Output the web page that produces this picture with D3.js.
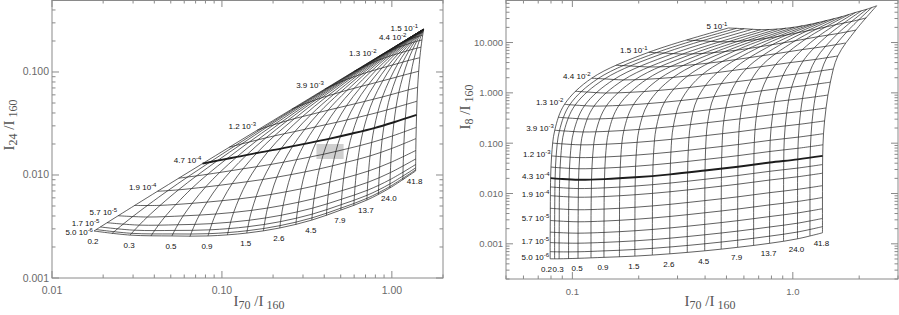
<!DOCTYPE html>
<html><head><meta charset="utf-8">
<script src="https://cdn.jsdelivr.net/npm/d3@7"></script>
<style>body{margin:0;background:#fff}svg{display:block}</style>
</head><body>
<svg id="c" width="899" height="315"></svg>
<script>
// ---------- DATA ----------
const uLabels = ["0.2","0.3","0.5","0.9","1.5","2.6","4.5","7.9","13.7","24.0","41.8"];
const qMantLeft  = ["5.0","1.7","5.7","1.9","4.7","1.2","3.9","1.3","4.4","1.5"];
const qExpLeft   = ["-6","-5","-5","-4","-4","-3","-3","-2","-2","-1"];
const qMantRight = ["5.0","1.7","5.7","1.9","4.3","1.2","3.9","1.3","4.4","1.5","5"];
const qExpRight  = ["-6","-5","-5","-4","-4","-3","-3","-2","-2","-1","-1"];

// LEFT panel — labelled grid nodes: rows = labelled U lines, columns = labelled q levels
const leftX = [
 [0.01766,0.01925,0.02451,0.04176,0.07682,0.1610,0.4028,0.8253,1.236,1.447,1.523],
 [0.0288,0.03056,0.0364,0.05549,0.09414,0.186,0.4438,0.8722,1.264,1.457,1.525],
 [0.0508,0.05274,0.05916,0.08013,0.1224,0.2218,0.4934,0.9223,1.292,1.466,1.526],
 [0.0828,0.08492,0.09194,0.1148,0.1606,0.2674,0.5505,0.9746,1.319,1.475,1.528],
 [0.140,0.1423,0.1498,0.1742,0.2230,0.3351,0.6236,1.033,1.347,1.484,1.530],
 [0.219,0.2214,0.2293,0.2550,0.3059,0.4215,0.7093,1.095,1.374,1.492,1.531],
 [0.338,0.3404,0.3485,0.3745,0.4257,0.5402,0.8155,1.164,1.403,1.501,1.533],
 [0.501,0.5034,0.5111,0.5361,0.5850,0.6925,0.9416,1.239,1.433,1.510,1.535],
 [0.713,0.7151,0.7220,0.7441,0.7870,0.8798,1.087,1.319,1.463,1.518,1.536],
 [0.973,0.9746,0.9799,0.9967,1.029,1.098,1.245,1.401,1.492,1.527,1.538],
 [1.380,1.381,1.382,1.387,1.398,1.418,1.461,1.504,1.528,1.537,1.539]
];
const leftY = [
 [0.00286,0.003129,0.004022,0.006947,0.01289,0.02716,0.06817,0.1398,0.2094,0.2452,0.2581],
 [0.00261,0.002911,0.003909,0.007174,0.01378,0.0295,0.07356,0.1468,0.2138,0.2468,0.2584],
 [0.00256,0.002896,0.004011,0.00765,0.01498,0.03224,0.07937,0.1538,0.2179,0.2482,0.2586],
 [0.00256,0.002935,0.00418,0.008235,0.01637,0.03529,0.08551,0.1607,0.2218,0.2495,0.2589],
 [0.00273,0.003149,0.004537,0.009047,0.01804,0.03872,0.09195,0.1675,0.2253,0.2506,0.2591],
 [0.00306,0.003528,0.005077,0.01009,0.02004,0.0426,0.09879,0.1741,0.2286,0.2517,0.2593],
 [0.00365,0.004171,0.005894,0.01146,0.02242,0.04693,0.1059,0.1805,0.2317,0.2527,0.2595],
 [0.00457,0.005151,0.007067,0.01324,0.02529,0.05182,0.1133,0.1868,0.2346,0.2535,0.2597],
 [0.00571,0.006356,0.008486,0.01532,0.02856,0.0572,0.121,0.1929,0.2372,0.2543,0.2598],
 [0.00748,0.008196,0.01055,0.01808,0.03254,0.06322,0.1289,0.1986,0.2396,0.2551,0.2599],
 [0.01094,0.01173,0.01432,0.02258,0.03827,0.07089,0.1377,0.2045,0.242,0.2557,0.2601]
];
// LEFT panel — unlabelled U lines (one between each labelled pair), at the labelled q levels
const leftUmidX = [
 [0.02254,0.02421,0.02976,0.04791,0.08474,0.1727,0.4226,0.8485,1.250,1.452,1.524],
 [0.03823,0.04008,0.04621,0.06624,0.1067,0.2024,0.4674,0.8969,1.278,1.462,1.526],
 [0.06483,0.06686,0.07358,0.0955,0.1396,0.2427,0.5206,0.9479,1.305,1.471,1.527],
 [0.1077,0.1099,0.1172,0.1409,0.1883,0.2981,0.5849,1.003,1.333,1.479,1.529],
 [0.1754,0.1777,0.1855,0.2106,0.2606,0.3749,0.6641,1.063,1.360,1.488,1.531],
 [0.2724,0.2748,0.2829,0.3089,0.3603,0.476,0.7594,1.129,1.389,1.497,1.532],
 [0.4118,0.4142,0.4222,0.4479,0.4984,0.6105,0.8751,1.201,1.418,1.505,1.534],
 [0.5976,0.5999,0.6073,0.6312,0.6777,0.7793,1.010,1.278,1.448,1.514,1.535],
 [0.8330,0.8349,0.8411,0.8611,0.8995,0.982,1.162,1.359,1.477,1.523,1.537],
 [1.1607,1.1618,1.1656,1.1774,1.2001,1.2478,1.348,1.451,1.510,1.532,1.539]
];
const leftUmidY = [
 [0.002704,0.002989,0.003932,0.007022,0.01329,0.02827,0.0708,0.1433,0.2116,0.246,0.2582],
 [0.002557,0.002875,0.00393,0.007377,0.01434,0.03082,0.07642,0.1503,0.2159,0.2475,0.2585],
 [0.002528,0.002883,0.004062,0.007902,0.01562,0.0337,0.08238,0.1573,0.2199,0.2488,0.2588],
 [0.002615,0.003012,0.004327,0.008605,0.01716,0.03696,0.08871,0.1641,0.2236,0.2501,0.259],
 [0.00286,0.003303,0.004768,0.009525,0.01898,0.04059,0.09531,0.1708,0.227,0.2512,0.2592],
 [0.003307,0.003802,0.005436,0.01072,0.02117,0.0447,0.1023,0.1774,0.2302,0.2522,0.2594],
 [0.004045,0.004595,0.006413,0.01227,0.02377,0.04929,0.1096,0.1837,0.2332,0.2531,0.2596],
 [0.005057,0.005669,0.007689,0.01418,0.02682,0.0544,0.1171,0.1898,0.2359,0.2539,0.2597],
 [0.006466,0.007147,0.00939,0.01657,0.03043,0.06011,0.1249,0.1958,0.2384,0.2547,0.2599],
 [0.008943,0.009695,0.01217,0.02006,0.03513,0.0668,0.1331,0.2016,0.2408,0.2554,0.26]
];
// LEFT panel — unlabelled q lines (one between each labelled pair), at the labelled U lines
const leftQmidX = [
 [0.01821,0.02942,0.05148,0.08354,0.1408,0.2198,0.3389,0.5018,0.7137,0.9736,1.3802],
 [0.02109,0.03261,0.05499,0.08738,0.1449,0.2242,0.3433,0.5061,0.7175,0.9765,1.3811],
 [0.03065,0.0432,0.06664,0.1001,0.1585,0.2385,0.3578,0.5201,0.730,0.9859,1.3841],
 [0.05573,0.07092,0.09702,0.1332,0.1938,0.2755,0.3951,0.5559,0.7615,1.0099,1.3916],
 [0.1103,0.1308,0.1622,0.2036,0.2684,0.353,0.4726,0.6293,0.8255,1.0577,1.4063],
 [0.2579,0.2905,0.3332,0.3849,0.4564,0.5442,0.6592,0.8017,0.9718,1.1641,1.438],
 [0.5998,0.6468,0.7001,0.7583,0.8274,0.9045,0.9948,1.0971,1.2099,1.3284,1.4844],
 [1.0538,1.0931,1.1332,1.1733,1.216,1.2597,1.3065,1.3555,1.4062,1.4563,1.5186],
 [1.3647,1.3824,1.3995,1.4157,1.4321,1.4482,1.4647,1.4813,1.498,1.5141,1.5334]
];
const leftQmidY = [
 [0.002954,0.002715,0.002678,0.002692,0.002877,0.003224,0.003833,0.004773,0.005937,0.007731,0.011217],
 [0.003442,0.003262,0.003288,0.003373,0.003637,0.004072,0.004777,0.005824,0.007106,0.009025,0.01264],
 [0.005063,0.005072,0.005309,0.005628,0.006149,0.006872,0.00789,0.009281,0.01094,0.01326,0.01731],
 [0.009316,0.009812,0.01058,0.01149,0.01266,0.0141,0.01589,0.01811,0.0207,0.02397,0.029],
 [0.01857,0.02005,0.0219,0.02399,0.02641,0.02922,0.03246,0.03622,0.04045,0.04537,0.05202],
 [0.0436,0.04735,0.05156,0.05614,0.0611,0.06655,0.07241,0.0788,0.08561,0.09291,0.1016],
 [0.1016,0.1083,0.1152,0.1224,0.1296,0.1369,0.1443,0.1517,0.1591,0.1664,0.1741],
 [0.1786,0.1846,0.1904,0.196,0.2012,0.2063,0.211,0.2155,0.2197,0.2236,0.2275],
 [0.2313,0.2341,0.2366,0.239,0.2411,0.2431,0.2449,0.2465,0.248,0.2494,0.2507]
];

// RIGHT panel — labelled grid nodes
const rightX = [
 [0.0793,0.0793,0.0794,0.0795,0.0797,0.0805,0.0832,0.0921,0.1224,0.2217,0.5107],
 [0.0871,0.0871,0.0872,0.0873,0.0876,0.0886,0.0918,0.1029,0.1400,0.2606,0.6021],
 [0.1061,0.1061,0.1062,0.1064,0.1067,0.1079,0.1119,0.1254,0.1706,0.3161,0.7151],
 [0.1391,0.1391,0.1392,0.1394,0.1399,0.1413,0.1462,0.1626,0.2174,0.3915,0.8513],
 [0.1921,0.1921,0.1922,0.1925,0.1930,0.1947,0.2007,0.2206,0.2866,0.4929,1.014],
 [0.2767,0.2767,0.2768,0.2772,0.2778,0.2799,0.2870,0.3109,0.3894,0.6301,1.208],
 [0.3985,0.3985,0.3987,0.3991,0.3998,0.4023,0.4107,0.4388,0.5308,0.8060,1.429],
 [0.5621,0.5621,0.5623,0.5628,0.5637,0.5665,0.5763,0.6090,0.7148,1.023,1.674],
 [0.7845,0.7845,0.7848,0.7853,0.7863,0.7895,0.810,0.855,0.975,1.300,1.930],
 [1.050,1.050,1.051,1.051,1.053,1.060,1.085,1.140,1.270,1.600,2.170],
 [1.363,1.363,1.363,1.364,1.366,1.378,1.415,1.480,1.600,1.930,2.400]
];
const rightY = [
 [5.04e-4,1.060e-3,2.912e-3,9.070e-3,0.02018,0.05583,0.1808,0.5901,1.956,6.390,19.45],
 [5.04e-4,1.042e-3,2.834e-3,8.792e-3,0.01954,0.05404,0.1750,0.5710,1.893,6.183,18.82],
 [5.15e-4,1.029e-3,2.741e-3,8.433e-3,0.01871,0.05166,0.1672,0.5456,1.808,5.907,17.98],
 [5.39e-4,1.068e-3,2.832e-3,8.698e-3,0.01928,0.05324,0.1723,0.5621,1.863,6.086,18.52],
 [5.70e-4,1.146e-3,3.066e-3,9.450e-3,0.02097,0.05793,0.1875,0.6118,2.028,6.624,20.16],
 [6.33e-4,1.294e-3,3.498e-3,0.01083,0.02405,0.06648,0.2152,0.7023,2.328,7.604,23.14],
 [7.26e-4,1.513e-3,4.137e-3,0.01286,0.02861,0.07912,0.2562,0.8361,2.772,9.053,27.55],
 [8.52e-4,1.789e-3,4.913e-3,0.01530,0.03405,0.09418,0.3051,0.9954,3.300,10.78,32.80],
 [1.023e-3,2.158e-3,5.942e-3,0.01852,0.04123,0.1141,0.3695,1.206,3.997,13.06,39.73],
 [1.257e-3,2.570e-3,6.946e-3,0.02150,0.04775,0.1320,0.4274,1.394,4.622,15.10,45.95],
 [1.656e-3,3.191e-3,8.307e-3,0.02532,0.05601,0.1545,0.4998,1.630,5.404,17.65,53.72]
];
// RIGHT panel — unlabelled U lines
const rightUmidX = [
 [0.08308,0.08308,0.08310,0.08327,0.0835,0.0844,0.0874,0.0973,0.1308,0.2403,0.5547],
 [0.09612,0.09612,0.09615,0.09635,0.0967,0.0977,0.1014,0.1136,0.1545,0.2871,0.6568],
 [0.1215,0.1215,0.1215,0.1218,0.1222,0.1235,0.1279,0.1428,0.1926,0.3519,0.781],
 [0.1635,0.1635,0.1636,0.1638,0.1644,0.1659,0.1713,0.1894,0.2496,0.4393,0.9298],
 [0.2306,0.2306,0.2307,0.2310,0.2316,0.2335,0.2400,0.2618,0.3339,0.5571,1.107],
 [0.3321,0.3321,0.3322,0.3326,0.3333,0.3356,0.3434,0.3693,0.4545,0.7128,1.315],
 [0.4733,0.4733,0.4734,0.4739,0.4748,0.4774,0.4865,0.5169,0.6158,0.9079,1.548],
 [0.6641,0.6641,0.6642,0.6648,0.6658,0.6688,0.6834,0.7213,0.8349,1.148,1.799],
 [0.9077,0.9077,0.9078,0.9085,0.9096,0.915,0.938,0.988,1.114,1.445,2.049],
 [1.1962,1.1962,1.1963,1.1970,1.1982,1.209,1.239,1.300,1.426,1.759,2.283]
];
const rightUmidY = [
 [5.04e-4,1.050e-3,2.872e-3,8.929e-3,0.01986,0.05492,0.1779,0.5804,1.924,6.285,19.13],
 [5.08e-4,1.034e-3,2.785e-3,8.609e-3,0.01912,0.05284,0.1711,0.5582,1.850,6.043,18.39],
 [5.27e-4,1.048e-3,2.786e-3,8.565e-3,0.01899,0.05245,0.1698,0.5539,1.836,5.997,18.25],
 [5.51e-4,1.103e-3,2.944e-3,9.063e-3,0.02011,0.05553,0.1798,0.5865,1.944,6.350,19.32],
 [5.99e-4,1.216e-3,3.273e-3,0.01011,0.02246,0.06206,0.2009,0.6556,2.173,7.098,21.60],
 [6.75e-4,1.396e-3,3.801e-3,0.0118,0.02623,0.07252,0.2348,0.7663,2.540,8.297,25.25],
 [7.85e-4,1.644e-3,4.507e-3,0.01403,0.03121,0.08632,0.2796,0.9124,3.024,9.879,30.06],
 [9.29e-4,1.961e-3,5.399e-3,0.01683,0.03746,0.1036,0.3357,1.0956,3.632,11.86,36.10],
 [1.131e-3,2.352e-3,6.421e-3,0.01995,0.04437,0.1227,0.3974,1.2966,4.298,14.04,42.73],
 [1.442e-3,2.862e-3,7.593e-3,0.02333,0.05172,0.1428,0.4622,1.5079,4.998,16.33,49.68]
];
// RIGHT panel — unlabelled q lines
const rightQmidX = [
 [0.0793,0.0871,0.1061,0.1391,0.1921,0.2767,0.3985,0.5621,0.7845,1.050,1.363],
 [0.0793,0.0871,0.1061,0.1391,0.1921,0.2767,0.3985,0.5621,0.7845,1.050,1.363],
 [0.0794,0.0872,0.1062,0.1392,0.1922,0.2768,0.3987,0.5623,0.7848,1.051,1.363],
 [0.0795,0.0873,0.1064,0.1394,0.1925,0.2772,0.3991,0.5628,0.7853,1.051,1.364],
 [0.0800,0.0880,0.1072,0.1404,0.1937,0.2786,0.4007,0.5647,0.7875,1.056,1.370],
 [0.0814,0.0897,0.1093,0.1430,0.1969,0.2824,0.4053,0.570,0.798,1.071,1.394],
 [0.08635,0.09577,0.1167,0.1520,0.2078,0.2955,0.4207,0.588,0.827,1.107,1.442],
 [0.1029,0.1160,0.1415,0.1822,0.2442,0.339,0.4719,0.6472,0.899,1.188,1.523],
 [0.158,0.1833,0.2232,0.2808,0.3623,0.4785,0.6338,0.8316,1.101,1.40,1.731],
 [0.3304,0.3907,0.4703,0.5722,0.7016,0.8666,1.0672,1.3032,1.579,1.861,2.152]
];
const rightQmidY = [
 [6.985e-4,6.922e-4,6.948e-4,7.242e-4,7.716e-4,8.644e-4,1.0015e-3,1.18e-3,1.4203e-3,1.7165e-3,2.1932e-3],
 [1.708e-3,1.669e-3,1.628e-3,1.686e-3,1.818e-3,2.066e-3,2.432e-3,2.883e-3,3.483e-3,4.101e-3,4.981e-3],
 [5.088e-3,4.939e-3,4.752e-3,4.905e-3,5.322e-3,6.088e-3,7.22e-3,8.584e-3,0.010388,0.012088,0.014318],
 [0.013514,0.013093,0.012542,0.012931,0.014058,0.016116,0.01916,0.022798,0.027606,0.031998,0.037596],
 [0.033516,0.032446,0.031031,0.031982,0.034794,0.039919,0.047499,0.056537,0.068473,0.079259,0.092849],
 [0.10028,0.09705,0.09275,0.09558,0.10401,0.11937,0.1421,0.16916,0.20488,0.23702,0.27728],
 [0.32686,0.31629,0.3022,0.31138,0.33891,0.38901,0.46312,0.55135,0.66783,0.77239,0.90318],
 [1.0748,1.040,0.9936,1.0238,1.1143,1.279,1.5228,1.813,2.1959,2.5396,2.9693],
 [3.5345,3.42,3.2674,3.3666,3.6643,4.2063,5.0078,5.962,7.2216,8.3515,9.7639],
 [11.16,10.798,10.316,10.629,11.569,13.281,15.812,18.825,22.802,26.369,30.828]
];
const boldQIndex = 4;
// shaded observed box (left panel)
const boxX = [0.36, 0.52];
const boxY = [0.0143, 0.020];

const leftXTicks = [0.01, 0.1, 1];   const leftXTickLabels = ["0.01","0.10","1.00"];
const leftYTicks = [0.001, 0.01, 0.1]; const leftYTickLabels = ["0.001","0.010","0.100"];
const rightXTicks = [0.1, 1];        const rightXTickLabels = ["0.1","1.0"];
const rightYTicks = [0.001,0.01,0.1,1,10]; const rightYTickLabels = ["0.001","0.010","0.100","1.000","10.000"];

// ---------- DRAW ----------
const svg = d3.select("#c");
svg.append("rect").attr("width",899).attr("height",315).attr("fill","#fff");
const AX = "#8a8a8a", TXT = "#6a6a6a";
const SANS = "Liberation Sans, Arial, sans-serif";
const LW = 0.7, LC = "#1c1c1c";

function drawPanel(o) {
  const xs = d3.scaleLog().domain(o.xDom).range([o.L, o.R]);
  const ys = d3.scaleLog().domain(o.yDom).range([o.B, o.T]);
  const g = svg.append("g");

  if (o.box) {
    g.append("rect").attr("x", xs(o.box.x[0])).attr("y", ys(o.box.y[1]))
      .attr("width", xs(o.box.x[1]) - xs(o.box.x[0]))
      .attr("height", ys(o.box.y[0]) - ys(o.box.y[1]))
      .attr("fill", "#cfcfcf");
  }

  const line = d3.line().x(d => xs(d[0])).y(d => ys(d[1])).curve(d3.curveCatmullRom.alpha(0.5));
  const path = (pts, w) => g.append("path").attr("d", line(pts)).attr("fill","none")
      .attr("stroke", LC).attr("stroke-width", w || LW);
  const X = o.X, Y = o.Y;
  // U lines (labelled + unlabelled), drawn along the rows
  X.forEach((row, i) => path(row.map((x, j) => [x, Y[i][j]])));
  o.UmX.forEach((row, i) => path(row.map((x, j) => [x, o.UmY[i][j]])));
  // q lines: unlabelled rows, then labelled columns
  o.QmX.forEach((row, k) => path(row.map((x, i) => [x, o.QmY[k][i]])));
  for (let j = 0; j < o.nQ; j++) {
    path(X.map((row, i) => [row[j], Y[i][j]]), j === boldQIndex ? 1.9 : LW);
  }

  // q labels, placed from the top down so that they never collide
  let prevBase = -Infinity;
  for (let j = o.qMant.length - 1; j >= 0; j--) {
    const base = Math.max(ys(Y[0][j]) + o.qOff, prevBase + 9);
    prevBase = base;
    const t = g.append("text").attr("x", xs(X[0][j]) - 1).attr("y", base)
      .attr("text-anchor","end").attr("font-family", SANS)
      .attr("font-size", 8).attr("fill","#111");
    t.append("tspan").text(o.qMant[j] + " 10");
    t.append("tspan").attr("dy", -3).attr("font-size", 6).text(o.qExp[j]);
  }
  // U labels, placed from the right so that they never collide
  let prevLeft = Infinity;
  for (let i = uLabels.length - 1; i >= 0; i--) {
    const t = g.append("text").attr("y", ys(Y[i][0]) + 13)
      .attr("text-anchor","middle").attr("font-family", SANS)
      .attr("font-size", 8).attr("fill","#111").text(uLabels[i]);
    const w = t.node().getComputedTextLength();
    const cx = Math.min(xs(X[i][0]) - 1, prevLeft - w / 2 - 0.5);
    t.attr("x", cx);
    prevLeft = cx - w / 2;
  }

  // frame + ticks
  g.append("rect").attr("x", o.L).attr("y", o.T + 0.5).attr("width", o.R - o.L).attr("height", o.B - o.T - 0.5)
    .attr("fill","none").attr("stroke", AX).attr("stroke-width", 1);
  const isMajor = v => Math.abs(Math.log10(v) - Math.round(Math.log10(v))) < 1e-6;
  xs.ticks().forEach(v => {
    const x = xs(v), len = isMajor(v) ? 7 : 3.5;
    g.append("line").attr("x1",x).attr("x2",x).attr("y1",o.B).attr("y2",o.B-len).attr("stroke",AX);
    g.append("line").attr("x1",x).attr("x2",x).attr("y1",o.T).attr("y2",o.T+len).attr("stroke",AX);
  });
  ys.ticks().forEach(v => {
    const y = ys(v), len = isMajor(v) ? 7 : 3.5;
    g.append("line").attr("x1",o.L).attr("x2",o.L+len).attr("y1",y).attr("y2",y).attr("stroke",AX);
    g.append("line").attr("x1",o.R).attr("x2",o.R-len).attr("y1",y).attr("y2",y).attr("stroke",AX);
  });
  o.xTicks.forEach((v, k) => {
    g.append("text").attr("x", xs(v)).attr("y", o.B + 16).attr("text-anchor","middle")
      .attr("font-family", SANS).attr("font-size", o.tickFs).attr("fill",TXT).text(o.xTickLabels[k]);
  });
  o.yTicks.forEach((v, k) => {
    g.append("text").attr("x", o.L - 3).attr("y", ys(v) + 3.5).attr("text-anchor","end")
      .attr("font-family", SANS).attr("font-size", o.tickFs).attr("fill",TXT).text(o.yTickLabels[k]);
  });

  function title(x, y, rot, sub1) {
    const t = g.append("text").attr("transform", `translate(${x},${y}) rotate(${rot})`)
      .attr("text-anchor","middle").attr("font-family","Liberation Serif, Times New Roman, serif")
      .attr("font-size", 15).attr("fill","#555");
    t.append("tspan").text("I");
    t.append("tspan").attr("dy", 2.5).attr("font-size", 12).text(sub1);
    t.append("tspan").attr("dy", -2.5).text(" /I");
    t.append("tspan").attr("dy", 2.5).attr("font-size", 12).text(" 160");
  }
  title(o.xtX, 306, 0, "70");
  title(o.ytX, o.ytY, -90, o.ySub);
}

drawPanel({L:52, R:443, T:0, B:278, xDom:[0.01,2], yDom:[0.001,0.5],
  X:leftX, Y:leftY, UmX:leftUmidX, UmY:leftUmidY, QmX:leftQmidX, QmY:leftQmidY, nQ:10,
  qMant:qMantLeft, qExp:qExpLeft, qOff:-1, box:{x:boxX, y:boxY},
  xTicks:leftXTicks, xTickLabels:leftXTickLabels, yTicks:leftYTicks, yTickLabels:leftYTickLabels, tickFs:10.5,
  xtX:259, ytX:14, ytY:125, ySub:"24"});
drawPanel({L:506, R:898, T:0, B:279, xDom:[0.05,3], yDom:[2e-4,70],
  X:rightX, Y:rightY, UmX:rightUmidX, UmY:rightUmidY, QmX:rightQmidX, QmY:rightQmidY, nQ:11,
  qMant:qMantRight, qExp:qExpRight, qOff:1, box:null,
  xTicks:rightXTicks, xTickLabels:rightXTickLabels, yTicks:rightYTicks, yTickLabels:rightYTickLabels, tickFs:9.5,
  xtX:710, ytX:470, ytY:107, ySub:"8"});
</script>
</body></html>
